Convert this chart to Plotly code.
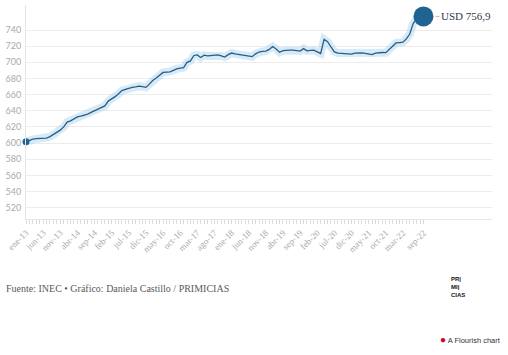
import plotly.graph_objects as go

# ---- data ----
month_names = ["ene", "feb", "mar", "abr", "may", "jun", "jul", "ago", "sep", "oct", "nov", "dic"]
start_year = 13
values = [
    601.6, 603.5, 605.0, 605.5, 605.8, 606.0, 606.2, 608.0, 610.5, 613.0,
    616.0, 620.0, 626.0, 627.6, 630.5, 632.5, 633.5, 634.5, 636.0, 638.0,
    640.0, 642.0, 644.0, 646.0, 652.0, 654.5, 657.5, 661.0, 665.0, 666.5,
    668.0, 669.0, 669.5, 670.5, 670.0, 669.0, 673.0, 677.5, 680.5, 684.0,
    687.5, 688.0, 688.2, 690.0, 692.0, 692.8, 693.5, 700.0, 701.8, 708.5,
    709.2, 706.0, 708.8, 708.0, 708.5, 709.0, 709.2, 708.0, 706.5, 709.5,
    711.5, 710.5, 709.8, 709.0, 708.5, 707.8, 707.0, 710.5, 712.8, 713.5,
    714.0, 716.0, 719.5, 716.5, 712.5, 714.5, 715.0, 715.2, 715.0, 714.5,
    714.0, 717.0, 714.2, 714.8, 715.0, 713.0, 711.0, 728.5, 725.5, 719.0,
    713.0, 711.5, 711.0, 710.8, 710.5, 710.2, 711.5, 712.0, 711.6, 711.2,
    710.5, 709.5, 711.5, 712.0, 712.2, 712.0, 716.0, 720.0, 724.0, 724.5,
    725.0, 729.0, 735.0, 748.0, 754.0, 755.5, 756.9,
]
labels = [f"{month_names[i % 12]}-{start_year + i // 12}" for i in range(len(values))]
label_every = 5
y_ticks = [520, 540, 560, 580, 600, 620, 640, 660, 680, 700, 720, 740]
last_label = "USD 756,9"
source_text = "Fuente: INEC • Gráfico: Daniela Castillo / PRIMICIAS"

idx = list(range(len(values)))
ticktext = [labels[i] if (i % label_every == 0 and i <= len(values) - 6) or i == len(values) - 1 else "" for i in idx]

W, H = 508, 355
L, R, T, B = 26, 16, 5, 136
pw, ph = W - L - R, H - T - B

def px_x(px):
    return (px - L) / pw

def px_y(py):
    return (H - B - py) / ph

fig = go.Figure()
# halo
fig.add_trace(go.Scatter(x=idx, y=values, mode="lines",
                         line=dict(color="rgba(165,208,240,0.45)", width=8),
                         hoverinfo="skip", showlegend=False))
fig.add_trace(go.Scatter(x=idx, y=values, mode="lines",
                         line=dict(color="#2b5d84", width=1.3),
                         showlegend=False))
# start dot
fig.add_trace(go.Scatter(x=[idx[0]], y=[values[0]], mode="markers",
                         marker=dict(color="#1f6391", size=7), cliponaxis=False,
                         showlegend=False))
# end dot
fig.add_trace(go.Scatter(x=[idx[-1]], y=[values[-1]], mode="markers",
                         marker=dict(color="#1f6391", size=20), cliponaxis=False,
                         showlegend=False))

fig.add_annotation(x=idx[-1], y=values[-1], xref="x", yref="y",
                   text=last_label, showarrow=True, ax=16, ay=0,
                   xanchor="left", arrowhead=0, arrowwidth=1,
                   arrowcolor="#f0a0a0", standoff=12,
                   font=dict(family="Liberation Serif", size=11, color="#2f3a4a"))

fig.add_annotation(xref="paper", yref="paper", x=px_x(4), y=px_y(288),
                   xanchor="left", yanchor="middle", showarrow=False,
                   text=source_text,
                   font=dict(family="Liberation Serif", size=10, color="#5a5a5a"))

# logo
fig.add_annotation(xref="paper", yref="paper", x=px_x(458), y=px_y(287),
                   xanchor="center", yanchor="middle", showarrow=False, align="left",
                   text="<b>PR|<br>MI|<br>CIAS</b>",
                   font=dict(family="Liberation Sans", size=6, color="#111"))

fig.add_annotation(xref="paper", yref="paper", x=px_x(503), y=px_y(339),
                   xanchor="right", yanchor="middle", showarrow=False,
                   text="<span style='color:#d0021b;font-size:10px'>●</span> A Flourish chart",
                   font=dict(family="Liberation Sans", size=7.5, color="#333"))

fig.update_layout(
    width=W, height=H,
    margin=dict(l=L, r=R, t=T, b=B, autoexpand=False),
    paper_bgcolor="white", plot_bgcolor="white",
    xaxis=dict(range=[0, 136], tickmode="array", tickvals=idx, ticktext=ticktext,
               tickangle=-45, ticks="outside", ticklen=4, tickcolor="#dddddd",
               tickfont=dict(family="Liberation Serif", size=9, color="#aaaaaa"),
               showgrid=False, zeroline=False, showline=True, linecolor="#e6e6e6",
               linewidth=1, automargin=False),
    yaxis=dict(range=[506, 771], tickmode="array", tickvals=y_ticks,
               showgrid=True, gridcolor="#ececec", gridwidth=1,
               zeroline=False, showline=True, linecolor="#e6e6e6", linewidth=1,
               ticks="", tickfont=dict(family="Lato", size=9, color="#aaaaaa"),
               ticklabelstandoff=2, automargin=False),
)

fig.write_html("out.html", config={"displayModeBar": False},
               post_script="document.body.style.margin='0';document.body.style.overflow='hidden';")
